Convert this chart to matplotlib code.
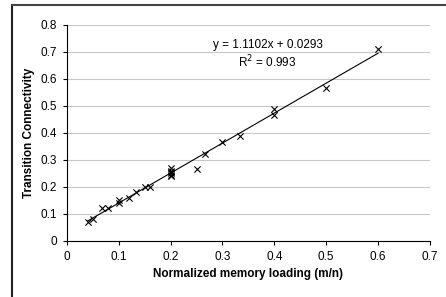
import matplotlib
matplotlib.use('Agg')
import matplotlib.pyplot as plt
from matplotlib.lines import Line2D
import numpy as np

plt.rcParams['font.family'] = ['Liberation Sans', 'DejaVu Sans']

# Data
mem_loading = [0.04, 0.05, 0.067, 0.08, 0.1, 0.1, 0.12, 0.133, 0.15, 0.16,
               0.2, 0.2, 0.2, 0.2, 0.2, 0.2, 0.25, 0.267, 0.3, 0.333,
               0.4, 0.4, 0.5, 0.6]
connectivity = [0.07, 0.08, 0.12, 0.12, 0.15, 0.14, 0.16, 0.18, 0.2, 0.2,
                0.27, 0.26, 0.255, 0.25, 0.245, 0.24, 0.265, 0.32, 0.365, 0.39,
                0.49, 0.465, 0.567, 0.712]
slope = 1.1102
intercept = 0.0293
r_squared = 0.993

fig = plt.figure(figsize=(4.46, 2.97), dpi=100)
ax = fig.add_axes([0.150, 0.189, 0.814, 0.727])

# Trend line
xs = np.array([min(mem_loading), max(mem_loading)])
ax.plot(xs, slope * xs + intercept, color='black', linewidth=0.8, zorder=3)
ax.scatter(mem_loading, connectivity, marker='x', color='black', s=20,
           linewidths=0.8, zorder=4)

ax.set_xlim(0, 0.7)
ax.set_ylim(0, 0.8)
ax.set_xticks(np.arange(0, 0.71, 0.1))
ax.set_yticks(np.arange(0, 0.81, 0.1))
ax.xaxis.set_major_formatter(plt.FuncFormatter(lambda v, _: '0' if v == 0 else f'{v:.1f}'))
ax.yaxis.set_major_formatter(plt.FuncFormatter(lambda v, _: '0' if v == 0 else f'{v:.1f}'))
ax.tick_params(labelsize=8.5, length=3, width=0.8, color='black', pad=4)

ax.grid(axis='y', color='#c8c8c8', linewidth=0.8)
ax.set_axisbelow(True)
for side in ['top', 'right']:
    ax.spines[side].set_visible(False)
for side in ['left', 'bottom']:
    ax.spines[side].set_linewidth(0.8)

ax.set_xlabel('Normalized memory loading (m/n)', fontsize=8.5, fontweight='bold', labelpad=4)
ax.set_ylabel('Transition Connectivity', fontsize=8.5, fontweight='bold', labelpad=4)

ax.text(0.387, 0.726, f'y = {slope}x + {intercept}', fontsize=8.5, ha='center', va='center')
ax.text(0.387, 0.663, f'R$^2$ = {r_squared}', fontsize=8.5, ha='center', va='center')

# Frame around the chart (left and top edges)
fig.add_artist(Line2D([0.026, 0.026], [0, 0.983], color='#222222', linewidth=1.5,
                      transform=fig.transFigure))
fig.add_artist(Line2D([0.026, 1.0], [0.983, 0.983], color='#444444', linewidth=1.5,
                      transform=fig.transFigure))

plt.savefig('out.png', dpi=100)
